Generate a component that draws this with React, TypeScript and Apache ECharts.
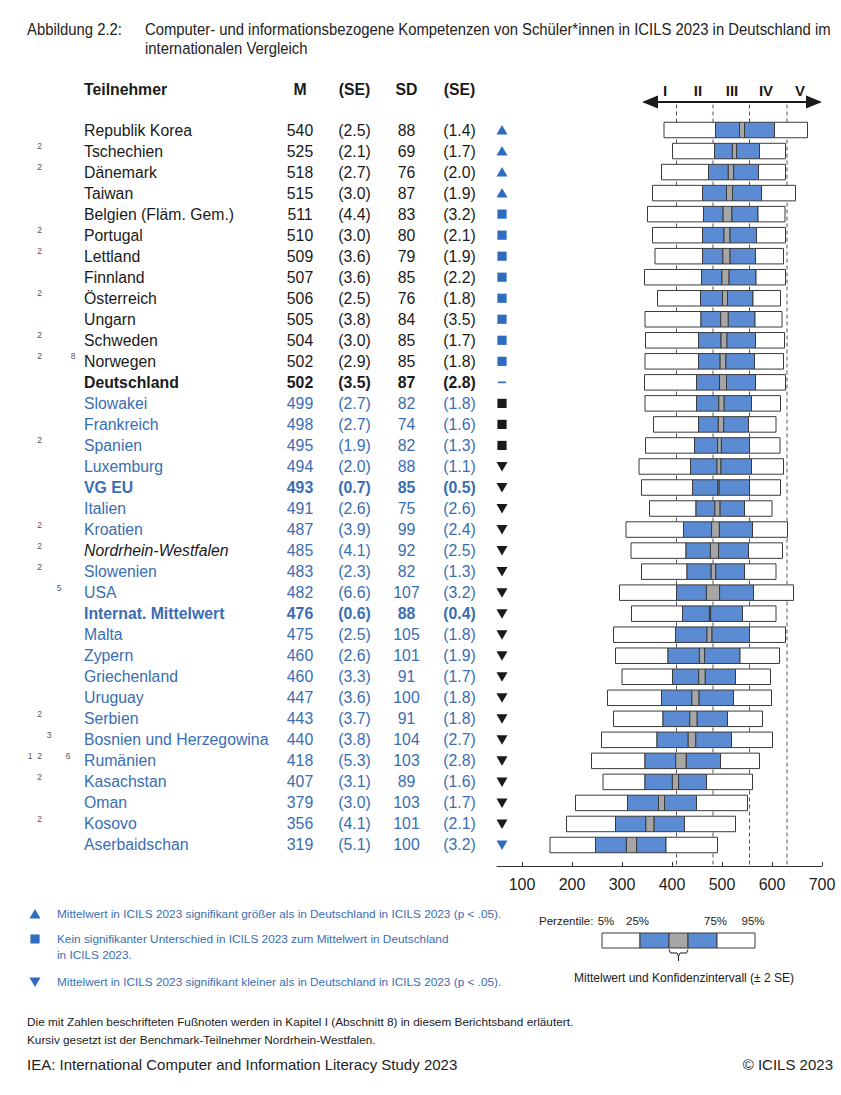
import React, { useEffect, useRef } from "react";
import * as echarts from "echarts";

// ---------------- data ----------------
const participants = [
  "Republik Korea", "Tschechien", "Dänemark", "Taiwan", "Belgien (Fläm. Gem.)", "Portugal",
  "Lettland", "Finnland", "Österreich", "Ungarn", "Schweden", "Norwegen", "Deutschland",
  "Slowakei", "Frankreich", "Spanien", "Luxemburg", "VG EU", "Italien", "Kroatien",
  "Nordrhein-Westfalen", "Slowenien", "USA", "Internat. Mittelwert", "Malta", "Zypern",
  "Griechenland", "Uruguay", "Serbien", "Bosnien und Herzegowina", "Rumänien", "Kasachstan",
  "Oman", "Kosovo", "Aserbaidschan",
];
const footnotes: number[][] = [
  [], [2], [2], [], [], [2], [2], [], [2], [], [2], [2, 8], [], [], [], [2], [], [], [],
  [2], [2], [2], [5], [], [], [], [], [], [2], [3], [1, 2, 6], [2], [], [2], [],
];
const meanScores = [540, 525, 518, 515, 511, 510, 509, 507, 506, 505, 504, 502, 502, 499, 498, 495, 494, 493, 491, 487, 485, 483, 482, 476, 475, 460, 460, 447, 443, 440, 418, 407, 379, 356, 319];
const meanSE = [2.5, 2.1, 2.7, 3.0, 4.4, 3.0, 3.6, 3.6, 2.5, 3.8, 3.0, 2.9, 3.5, 2.7, 2.7, 1.9, 2.0, 0.7, 2.6, 3.9, 4.1, 2.3, 6.6, 0.6, 2.5, 2.6, 3.3, 3.6, 3.7, 3.8, 5.3, 3.1, 3.0, 4.1, 5.1];
const sdValues = [88, 69, 76, 87, 83, 80, 79, 85, 76, 84, 85, 85, 87, 82, 74, 82, 88, 85, 75, 99, 92, 82, 107, 88, 105, 101, 91, 100, 91, 104, 103, 89, 103, 101, 100];
const sdSE = [1.4, 1.7, 2.0, 1.9, 3.2, 2.1, 1.9, 2.2, 1.8, 3.5, 1.7, 1.8, 2.8, 1.8, 1.6, 1.3, 1.1, 0.5, 2.6, 2.4, 2.5, 1.3, 3.2, 0.4, 1.8, 1.9, 1.7, 1.8, 1.8, 2.7, 2.8, 1.6, 1.7, 2.1, 3.2];
const p5 = [384, 401, 379, 361, 351, 361, 366, 345, 371, 346, 347, 346, 345, 346, 363, 347, 334, 339, 355, 308, 318, 339, 295, 319, 283, 287, 300, 271, 283, 259, 239, 262, 207, 189, 156];
const p25 = [487, 485, 473, 461, 463, 461, 461, 459, 457, 458, 453, 453, 449, 449, 453, 445, 437, 441, 448, 423, 428, 430, 409, 421, 407, 392, 401, 379, 382, 370, 346, 346, 311, 287, 247];
const p75 = [605, 575, 573, 579, 572, 569, 567, 568, 562, 566, 567, 565, 567, 559, 553, 555, 559, 555, 545, 561, 553, 545, 563, 541, 555, 536, 527, 523, 511, 519, 497, 469, 449, 425, 388];
const p95 = [671, 627, 627, 647, 626, 627, 623, 627, 617, 620, 625, 623, 627, 617, 608, 616, 623, 617, 600, 631, 621, 608, 643, 608, 627, 615, 597, 599, 581, 601, 575, 561, 551, 527, 491];
// up = signif. higher, same = n.s. (blue), sameK = n.s. (black), ref = Germany, down = lower (black), downB = lower (blue)
const significance = [
  "up", "up", "up", "up", "same", "same", "same", "same", "same", "same", "same", "same", "ref",
  "sameK", "sameK", "sameK", "down", "down", "down", "down", "down", "down", "down", "down",
  "down", "down", "down", "down", "down", "down", "down", "down", "down", "down", "downB",
];
// plain = black, bold = black bold, italic = black italic, blue, blueBold
const rowStyle = [
  "plain", "plain", "plain", "plain", "plain", "plain", "plain", "plain", "plain", "plain", "plain", "plain", "bold",
  "blue", "blue", "blue", "blue", "blueBold", "blue", "blue", "italic", "blue", "blue", "blueBold",
  "blue", "blue", "blue", "blue", "blue", "blue", "blue", "blue", "blue", "blue", "blue",
];
const levelCuts = [409, 482, 555, 630];
const levelNames = ["I", "II", "III", "IV", "V"];
const axisTicks = [100, 200, 300, 400, 500, 600, 700];

// ---------------- style ----------------
const FONT = "'Liberation Sans', Arial, Helvetica, sans-serif";
const INK = "#1a1a1a";
const BLUE_TEXT = "#3a6db3";
const BLUE_SYM = "#2d6cbf";
const BLUE_BOX = "#5a8bd3";
const GRAY_BOX = "#a6a6a6";
const EDGE = "#3a3a3a";
const ROW_FONT = 15.8;

const FOOT_X: Record<number, number> = { 1: 30, 2: 39.5, 3: 49, 5: 59, 6: 68, 8: 73 };
const LEVEL_X = [665, 698, 732, 766, 800];

function txt(text: string, x: number, y: number, o: any = {}) {
  const { scaleX, ...rest } = o;
  const align = rest.align || "left";
  const va = rest.verticalAlign || "middle";
  const el: any = {
    type: "text",
    x,
    y,
    silent: true,
    style: {
      text,
      fill: INK,
      fontSize: ROW_FONT,
      fontFamily: FONT,
      ...rest,
      align,
      verticalAlign: va,
      textAlign: align,
      textVerticalAlign: va,
    },
  };
  if (scaleX) el.scaleX = scaleX;
  return el;
}

function symbolEl(kind: string, cx: number, cy: number) {
  const blue = kind === "up" || kind === "same" || kind === "downB" || kind === "ref";
  const fill = blue ? BLUE_SYM : INK;
  if (kind === "up")
    return { type: "polygon", shape: { points: [[cx - 5.5, cy + 4.5], [cx + 5.5, cy + 4.5], [cx, cy - 5]] }, style: { fill } };
  if (kind === "down" || kind === "downB")
    return { type: "polygon", shape: { points: [[cx - 5.5, cy - 4.5], [cx + 5.5, cy - 4.5], [cx, cy + 5]] }, style: { fill } };
  if (kind === "ref")
    return { type: "rect", shape: { x: cx - 4, y: cy - 0.8, width: 8, height: 1.6 }, style: { fill } };
  return { type: "rect", shape: { x: cx - 4.6, y: cy - 4.6, width: 9.2, height: 9.2 }, style: { fill } };
}

function buildOption() {
  const boxData = participants.map((_, i) => [
    i, p5[i], p25[i], meanScores[i] - 2 * meanSE[i], meanScores[i] + 2 * meanSE[i], p75[i], p95[i],
  ]);
  const tableData = participants.map((_, i) => [100, i]);
  const titleStyle = { fontSize: 16.5, fill: "#222", scaleX: 0.9 };
  const legendStyle = { fontSize: 11.8, fill: BLUE_TEXT };

  const graphic: any[] = [
    // title
    txt("Abbildung 2.2:", 27, 29, titleStyle),
    txt("Computer- und informationsbezogene Kompetenzen von Schüler*innen in ICILS 2023 in Deutschland im", 145, 29, titleStyle),
    txt("internationalen Vergleich", 145, 48, titleStyle),
    // headers
    txt("Teilnehmer", 84, 89, { fontWeight: "bold" }),
    txt("M", 300, 89, { fontWeight: "bold", align: "center" }),
    txt("(SE)", 354.5, 89, { fontWeight: "bold", align: "center" }),
    txt("SD", 406.5, 89, { fontWeight: "bold", align: "center" }),
    txt("(SE)", 459.5, 89, { fontWeight: "bold", align: "center" }),
    // level arrow
    { type: "line", silent: true, shape: { x1: 652, y1: 102, x2: 812, y2: 102 }, style: { stroke: INK, lineWidth: 2 } },
    { type: "polygon", silent: true, shape: { points: [[642, 102], [658, 95.5], [658, 108.5]] }, style: { fill: INK } },
    { type: "polygon", silent: true, shape: { points: [[822, 102], [806, 95.5], [806, 108.5]] }, style: { fill: INK } },
    ...levelNames.map((l, k) => txt(l, LEVEL_X[k], 90, { fontWeight: "bold", align: "center", fontSize: 15 })),
    // significance legend
    symbolEl("up", 35, 914),
    txt("Mittelwert in ICILS 2023 signifikant größer als in Deutschland in ICILS 2023 (p < .05).", 57, 914, legendStyle),
    symbolEl("same", 35, 939),
    txt("Kein signifikanter Unterschied in ICILS 2023 zum Mittelwert in Deutschland", 57, 939, legendStyle),
    txt("in ICILS 2023.", 57, 955, legendStyle),
    symbolEl("downB", 35, 982),
    txt("Mittelwert in ICILS 2023 signifikant kleiner als in Deutschland in ICILS 2023 (p < .05).", 57, 982, legendStyle),
    // percentile legend
    txt("Perzentile:", 539, 921, { fontSize: 11.5 }),
    txt("5%", 606, 921, { fontSize: 11.5, align: "center" }),
    txt("25%", 637.5, 921, { fontSize: 11.5, align: "center" }),
    txt("75%", 715.5, 921, { fontSize: 11.5, align: "center" }),
    txt("95%", 753, 921, { fontSize: 11.5, align: "center" }),
    { type: "rect", silent: true, shape: { x: 602, y: 933, width: 38, height: 15 }, style: { fill: "#fff", stroke: EDGE, lineWidth: 1 } },
    { type: "rect", silent: true, shape: { x: 640, y: 933, width: 29, height: 15 }, style: { fill: BLUE_BOX, stroke: EDGE, lineWidth: 1 } },
    { type: "rect", silent: true, shape: { x: 669, y: 933, width: 19, height: 15 }, style: { fill: GRAY_BOX, stroke: EDGE, lineWidth: 1 } },
    { type: "rect", silent: true, shape: { x: 688, y: 933, width: 29, height: 15 }, style: { fill: BLUE_BOX, stroke: EDGE, lineWidth: 1 } },
    { type: "rect", silent: true, shape: { x: 717, y: 933, width: 38, height: 15 }, style: { fill: "#fff", stroke: EDGE, lineWidth: 1 } },
    { type: "polyline", silent: true, shape: { points: [[669, 949.5], [670.5, 953], [677, 953], [678.5, 956.5], [680, 953], [686.5, 953], [688, 949.5]] }, style: { stroke: INK, lineWidth: 1, fill: null } },
    { type: "line", silent: true, shape: { x1: 678.5, y1: 956.5, x2: 678.5, y2: 961 }, style: { stroke: INK, lineWidth: 1 } },
    txt("Mittelwert und Konfidenzintervall (± 2 SE)", 684, 978, { fontSize: 12, align: "center" }),
    // footer
    txt("Die mit Zahlen beschrifteten Fußnoten werden in Kapitel I (Abschnitt 8) in diesem Berichtsband erläutert.", 27, 1022, { fontSize: 11.8 }),
    txt("Kursiv gesetzt ist der Benchmark-Teilnehmer Nordrhein-Westfalen.", 27, 1040, { fontSize: 11.8 }),
    txt("IEA: International Computer and Information Literacy Study 2023", 27, 1064, { fontSize: 15, fill: "#222" }),
    txt("© ICILS 2023", 833, 1064, { fontSize: 15, fill: "#222", align: "right" }),
  ];

  return {
    animation: false,
    backgroundColor: "#ffffff",
    grid: { left: 497, right: 19, top: 119.5, height: 736, containLabel: false },
    xAxis: {
      type: "value",
      min: 50,
      max: 700,
      offset: 10.5,
      axisLine: { show: true, onZero: false, lineStyle: { color: "#333", width: 1 } },
      axisTick: { show: true, inside: true, length: 4, customValues: axisTicks, lineStyle: { color: "#333" } },
      axisLabel: { customValues: axisTicks, fontSize: 16, fontFamily: FONT, color: "#222", margin: 10 },
      splitLine: { show: false },
    },
    yAxis: { type: "category", data: participants, inverse: true, show: false },
    series: [
      {
        type: "custom",
        name: "Kompetenzstufen",
        z: 1,
        silent: true,
        data: levelCuts.map((v) => [v, 0]),
        encode: { x: 0, y: 1 },
        renderItem: (params: any, api: any) => {
          const x = api.coord([api.value(0), 0])[0];
          const cs = params.coordSys;
          return {
            type: "line",
            shape: { x1: x, y1: cs.y - 15, x2: x, y2: cs.y + cs.height + 10 },
            style: { stroke: "#555", lineWidth: 1, lineDash: [4, 3] },
          };
        },
      },
      {
        type: "custom",
        name: "Perzentile",
        z: 3,
        silent: true,
        data: boxData,
        encode: { x: [1, 2, 3, 4, 5, 6], y: 0 },
        renderItem: (params: any, api: any) => {
          const r = api.value(0);
          const xs = [1, 2, 3, 4, 5, 6].map((d) => api.coord([api.value(d), r])[0]);
          const yc = api.coord([api.value(1), r])[1];
          const h = 15.5;
          const top = yc - h / 2;
          const fills = ["#ffffff", BLUE_BOX, GRAY_BOX, BLUE_BOX, "#ffffff"];
          return {
            type: "group",
            children: fills.map((f, k) => ({
              type: "rect",
              shape: { x: xs[k], y: top, width: Math.max(xs[k + 1] - xs[k], 1), height: h },
              style: { fill: f, stroke: EDGE, lineWidth: 1 },
            })),
          };
        },
      },
      {
        type: "custom",
        name: "Tabelle",
        z: 3,
        silent: true,
        clip: false,
        data: tableData,
        encode: { x: 0, y: 1 },
        renderItem: (params: any, api: any) => {
          const i = api.value(1);
          const y = api.coord([100, i])[1];
          const st = rowStyle[i];
          const isBlue = st === "blue" || st === "blueBold";
          const color = isBlue ? BLUE_TEXT : INK;
          const weight = st === "bold" || st === "blueBold" ? "bold" : "normal";
          const base = { fill: color, fontWeight: weight };
          const numColor = st === "italic" ? BLUE_TEXT : color;
          const nb = { fill: numColor, fontWeight: weight, align: "center" };
          const children: any[] = [
            txt(participants[i], 84, y, { ...base, fontStyle: st === "italic" ? "italic" : "normal" }),
            txt(String(meanScores[i]), 300, y, nb),
            txt("(" + meanSE[i].toFixed(1) + ")", 354.5, y, nb),
            txt(String(sdValues[i]), 406.5, y, nb),
            txt("(" + sdSE[i].toFixed(1) + ")", 459.5, y, nb),
            symbolEl(significance[i], 502, y),
          ];
          footnotes[i].forEach((f) => {
            children.push(txt(String(f), FOOT_X[f], y - 5, { fontSize: 8.5, fill: "#555", align: "center" }));
          });
          return { type: "group", children };
        },
      },
    ],
    graphic,
  };
}

export default function App() {
  const ref = useRef<HTMLDivElement>(null);
  useEffect(() => {
    document.body.style.margin = "0";
    const chart = echarts.init(ref.current as HTMLDivElement, null, { renderer: "svg" });
    chart.setOption(buildOption() as any);
    return () => chart.dispose();
  }, []);
  return <div ref={ref} style={{ width: 841, height: 1095, background: "#fff" }} />;
}
